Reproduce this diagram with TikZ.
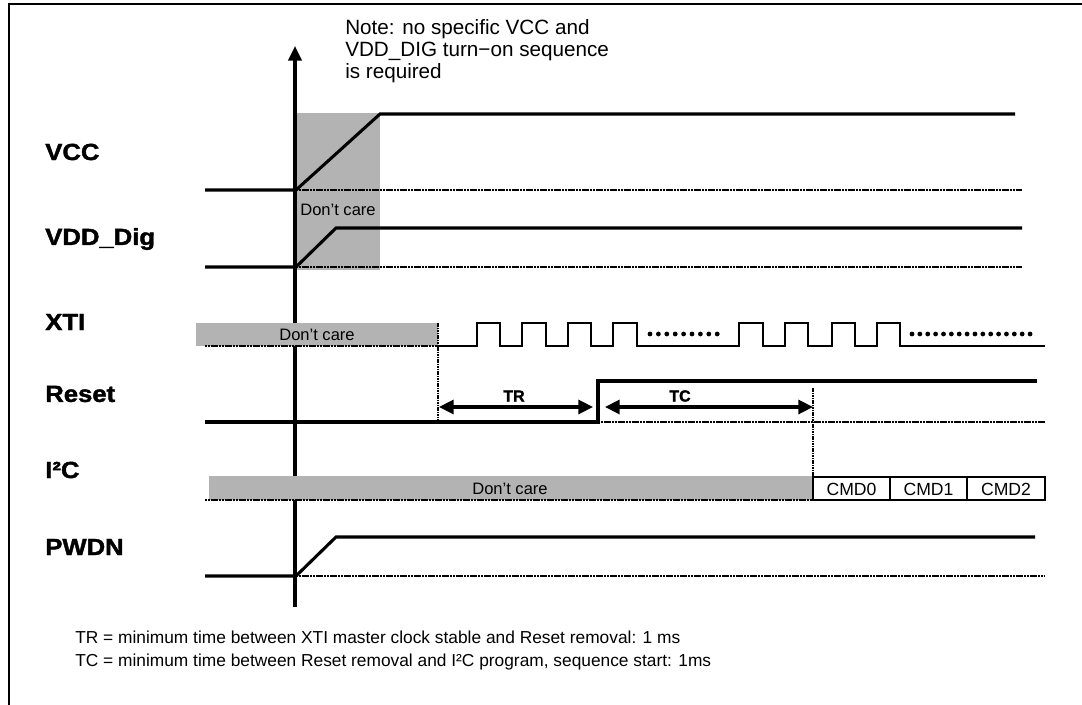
\documentclass[tikz,border=0pt]{standalone}
\usepackage{fontspec}
\setmainfont{Liberation Sans}
\newfontfamily\lblfont[FakeBold=1.6]{Liberation Sans Bold}
\usetikzlibrary{arrows.meta}
\definecolor{dcgray}{HTML}{B3B3B3}
\begin{document}
\begin{tikzpicture}[x=0.75pt,y=-0.75pt,
  sig/.style={line width=2.3pt, line join=miter},
  clk/.style={line width=1.6pt, line join=miter},
  baseline dots/.style={line width=1.9pt, dash pattern=on 1.6pt off 0.5pt},
  vdots/.style={line width=1.6pt, dash pattern=on 1.2pt off 0.6pt},
  lbl/.style={font=\fontsize{17.5}{20}\lblfont, anchor=west, xscale=1.1, inner sep=0pt},
  dctext/.style={font=\fontsize{12.4}{14}\selectfont, inner sep=0pt},
  cmdtext/.style={font=\fontsize{13.2}{14}\selectfont, inner sep=0pt},
  ttext/.style={font=\fontsize{12}{14}\lblfont, inner sep=0pt},
  dim/.style={line width=2.4pt, {Triangle[length=11pt,width=10.5pt]}-{Triangle[length=11pt,width=10.5pt]}},
  foot/.style={font=\fontsize{13}{16}\selectfont, anchor=west, inner sep=0pt},
  gbox/.style={fill=dcgray, draw=none},
  cmdbox/.style={line width=0.9pt}
]
\useasboundingbox (0,0) rectangle (1082,705);

% frame
\draw[line width=2.2pt] (9,705) -- (9,4) -- (1082,4);

% gray "don't care" area for supplies
\fill[gbox] (297,113) rectangle (380,270);

% time axis
\coordinate (axb) at (295,607);
\coordinate (axt) at (295,46);
\draw[line width=2.3pt, -{Triangle[length=11pt,width=10pt]}] (axb) -- (axt);

% gray areas that cover the axis
\fill[gbox] (196,323) rectangle (438,346);
\fill[gbox] (209,476) rectangle (813,500);

% note
\node[anchor=north west, align=left, inner sep=0pt,
      font=\fontsize{15.5}{16.5}\selectfont] (note) at (345,19)
  {Note: no specific VCC and\\VDD\_DIG turn\textminus on sequence\\is required};

% signal labels
\node[lbl] (lvcc) at (45,152) {VCC};
\node[lbl] (lvdd) at (45,239) {VDD\_Dig};
\node[lbl] (lxti) at (45,322) {XTI};
\node[lbl] (lrst) at (45,394) {Reset};
\node[lbl] (li2c) at (45,470) {I²C};
\node[lbl] (lpwd) at (45,547) {PWDN};

% VCC
\draw[sig] (205,190) -- (296,190) -- (380,114) -- (1015,114);
\draw[baseline dots] (296,190) -- (1022,190);
\node[dctext] (dc1) at (338,210) {Don’t care};

% VDD_Dig
\draw[sig] (205,267) -- (296,267) -- (336,228) -- (1022,228);
\draw[baseline dots] (296,267) -- (1022,267);

% XTI
\node[dctext] (dc2) at (317,335) {Don’t care};
\draw[baseline dots] (205,346) -- (438,346);
\draw[clk] (438,346)
  -- (477,346) -- (477,323) -- (500,323) -- (500,346)
  -- (522,346) -- (522,323) -- (546,323) -- (546,346)
  -- (568,346) -- (568,323) -- (591,323) -- (591,346)
  -- (613,346) -- (613,323) -- (637,323) -- (637,346)
  -- (739,346) -- (739,323) -- (763,323) -- (763,346)
  -- (785,346) -- (785,323) -- (808,323) -- (808,346)
  -- (832,346) -- (832,323) -- (855,323) -- (855,346)
  -- (877,346) -- (877,323) -- (900,323) -- (900,346)
  -- (1045,346);
\foreach \i in {0,...,8} \fill (650+8.4*\i,334) circle (2.4);
\foreach \i in {0,...,15} \fill (912+7.87*\i,334) circle (2.4);
\draw[vdots] (438,323) -- (438,422);

% Reset
\draw[sig] (205,422) -- (598,422) -- (598,381) -- (1037,381);
\draw[baseline dots] (598,422) -- (1045,422);
\coordinate (tr1) at (439,407);
\coordinate (tr2) at (593,407);
\coordinate (tc1) at (605,407);
\coordinate (tc2) at (813,407);
\draw[dim] (tr1) -- (tr2);
\draw[dim] (tc1) -- (tc2);
\node[ttext] (ltr) at (514,396) {TR};
\node[ttext] (ltc) at (680,396) {TC};
\draw[vdots] (813,388) -- (813,477);

% I2C
\node[dctext] (dc3) at (510,489) {Don’t care};
\draw[baseline dots] (205,500) -- (813,500);
\draw[cmdbox] (813,477) rectangle (890,500);
\draw[cmdbox] (890,477) rectangle (967,500);
\draw[cmdbox] (967,477) rectangle (1045,500);
\node[cmdtext] (c0) at (851.5,489) {CMD0};
\node[cmdtext] (c1) at (928.5,489) {CMD1};
\node[cmdtext] (c2) at (1006,489) {CMD2};

% PWDN
\draw[sig] (205,576) -- (296,576) -- (336,537) -- (1035,537);
\draw[baseline dots] (296,576) -- (1045,576);

% footnotes
\node[foot] (f1) at (75,637) {TR = minimum time between XTI master clock stable and Reset removal: 1 ms};
\node[foot] (f2) at (75,662) {TC = minimum time between Reset removal and I²C program, sequence start: 1ms};
\end{tikzpicture}
\end{document}
